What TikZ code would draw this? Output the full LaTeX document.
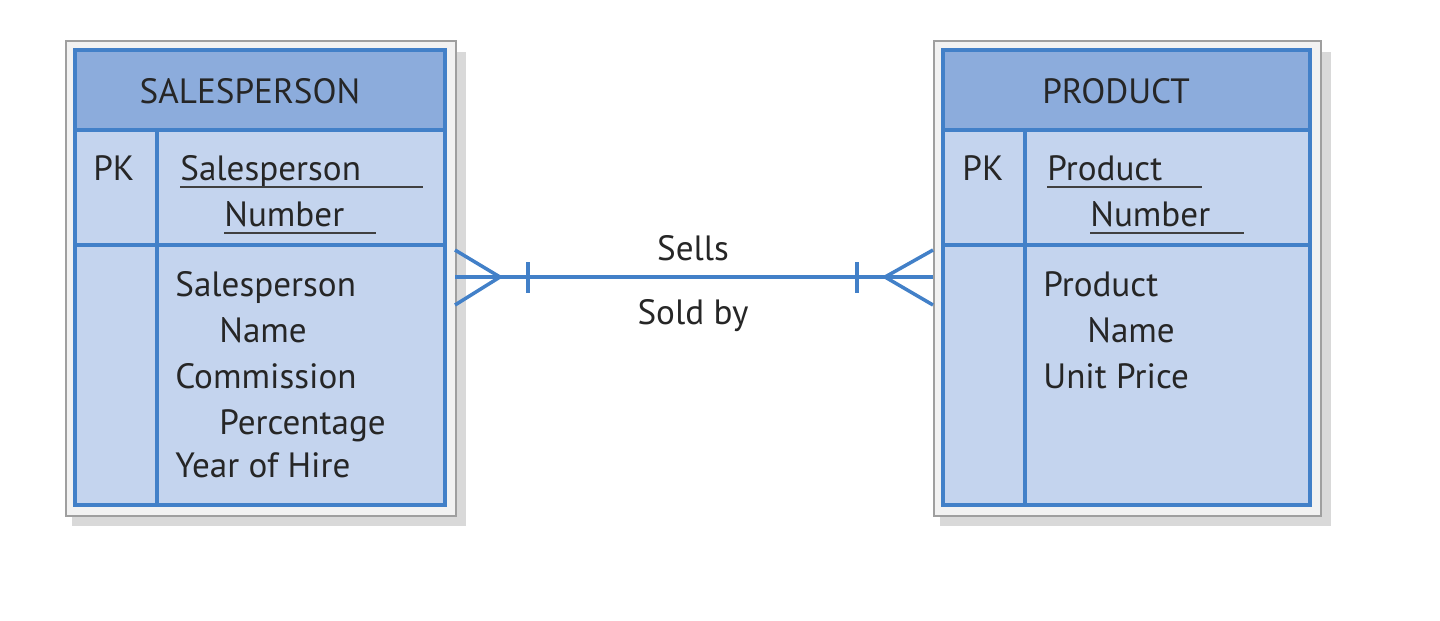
\documentclass[tikz,border=0pt]{standalone}
\usepackage{fontspec}
\setmainfont{PT Sans}
\definecolor{bodyc}{RGB}{196,212,238}
\definecolor{headc}{RGB}{140,172,220}
\definecolor{linec}{RGB}{66,128,200}
\begin{document}
\begin{tikzpicture}[x=0.02cm,y=-0.02cm,
  txt/.style={font=\fontsize{20}{24}\selectfont,text=black!85,inner sep=0pt,anchor=base west},
  bl/.style={draw=linec,line width=2pt},
  frame/.style={draw=gray!75,line width=1.4pt,fill=gray!10}]
\useasboundingbox (0,0) rectangle (1440,620);
% shadows
\fill[black!15] (72,52) rectangle (466,526);
\fill[black!15] (940,52) rectangle (1331,526);
% left entity
\node[frame,minimum width=390*0.02cm,minimum height=475*0.02cm,inner sep=0pt,anchor=north west] (lf) at (65,40) {};
\fill[bodyc] (75,50) rectangle (445,505);
\fill[headc] (75,50) rectangle (445,130);
\draw[bl] (75,50) rectangle (445,505);
\draw[bl] (75,130) -- (445,130) (75,245) -- (445,245) (157,130) -- (157,505);
\node[txt,anchor=base] (lh) at (250,103) {SALESPERSON};
\node[txt] (lpk) at (93,180) {PK};
\node[txt] (lk1) at (180,180) {Salesperson};
\node[txt] (lk2) at (224,226) {Number};
\draw[black!75,line width=0.9pt] (180,187) -- (423,187) (224,233) -- (376,233);
\node[txt] (la1) at (175,296) {Salesperson};
\node[txt] (la2) at (219,342) {Name};
\node[txt] (la3) at (175,388) {Commission};
\node[txt] (la4) at (219,434) {Percentage};
\node[txt] (la5) at (175,477) {Year of Hire};
% right entity
\node[frame,minimum width=387*0.02cm,minimum height=475*0.02cm,inner sep=0pt,anchor=north west] (rf) at (933,40) {};
\fill[bodyc] (943,50) rectangle (1310,505);
\fill[headc] (943,50) rectangle (1310,130);
\draw[bl] (943,50) rectangle (1310,505);
\draw[bl] (943,130) -- (1310,130) (943,245) -- (1310,245) (1025,130) -- (1025,505);
\node[txt,anchor=base] (rh) at (1116,103) {PRODUCT};
\node[txt] (rpk) at (962,180) {PK};
\node[txt] (rk1) at (1047,180) {Product};
\node[txt] (rk2) at (1090,226) {Number};
\draw[black!75,line width=0.9pt] (1047,187) -- (1202,187) (1090,233) -- (1244,233);
\node[txt] (ra1) at (1043,296) {Product};
\node[txt] (ra2) at (1087,342) {Name};
\node[txt] (ra3) at (1043,388) {Unit Price};
% relationship
\coordinate (l0) at (455,277); \coordinate (r0) at (933,277);
\coordinate (lc) at (500,277); \coordinate (rc) at (885,277);
\draw[bl] (l0) -- (r0);
\draw[bl] (455,250) -- (lc) -- (455,305);
\draw[bl] (933,250) -- (rc) -- (933,305);
\draw[bl] (528,262) -- (528,293);
\draw[bl] (857,262) -- (857,293);
\node[txt,anchor=base] (s1) at (693,260) {Sells};
\node[txt,anchor=base] (s2) at (693,324) {Sold by};
\end{tikzpicture}
\end{document}
